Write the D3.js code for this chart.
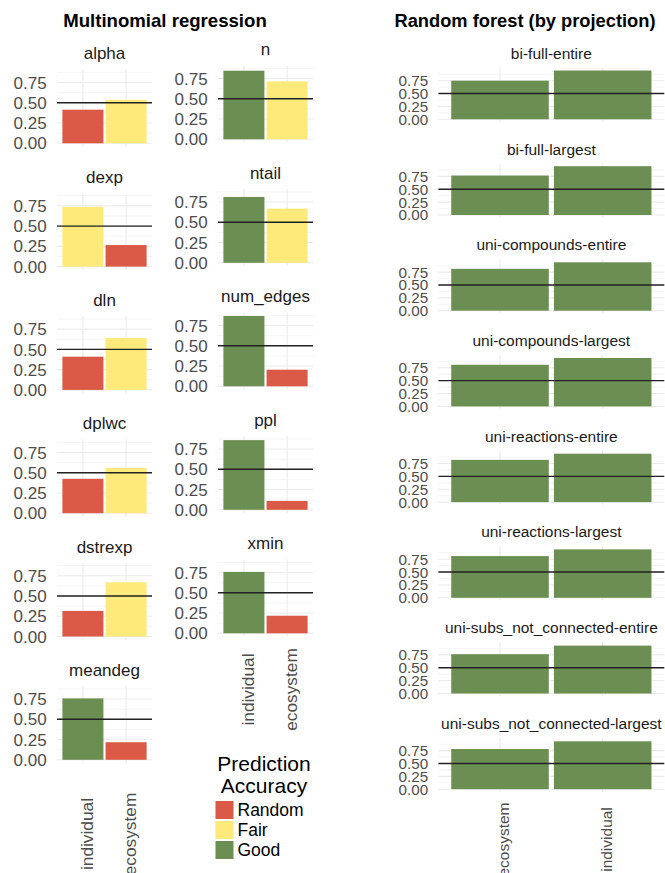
<!DOCTYPE html>
<html>
<head>
<meta charset="utf-8">
<script src="https://cdn.jsdelivr.net/npm/d3@7"></script>
<style>
  html, body { margin: 0; padding: 0; background: #fff; }
  svg { display: block; font-family: "Liberation Sans", Arial, Helvetica, sans-serif; }
</style>
</head>
<body>
<script>
// ---- data ---------------------------------------------------------------
// Multinomial regression: one panel per feature, two model scopes per panel
const mnFeatures = ["alpha", "dexp", "dln", "dplwc", "dstrexp", "meandeg",
                    "n", "ntail", "num_edges", "ppl", "xmin"];
const mnScopes = ["individual", "ecosystem"];
const mnIndividual = [0.415, 0.737, 0.410, 0.425, 0.316, 0.758,
                      0.847, 0.813, 0.868, 0.860, 0.758];
const mnEcosystem  = [0.537, 0.266, 0.640, 0.559, 0.669, 0.217,
                      0.715, 0.669, 0.205, 0.110, 0.217];
const mnIndividualClass = ["Random", "Fair", "Random", "Random", "Random", "Good",
                           "Good", "Good", "Good", "Good", "Good"];
const mnEcosystemClass  = ["Fair", "Random", "Fair", "Fair", "Fair", "Random",
                           "Fair", "Fair", "Random", "Random", "Random"];

// Random forest: one panel per network projection
const rfProjections = ["bi-full-entire", "bi-full-largest",
                       "uni-compounds-entire", "uni-compounds-largest",
                       "uni-reactions-entire", "uni-reactions-largest",
                       "uni-subs_not_connected-entire", "uni-subs_not_connected-largest"];
const rfScopes = ["ecosystem", "individual"];
const rfEcosystem  = [0.750, 0.766, 0.813, 0.808, 0.820, 0.810, 0.763, 0.780];
const rfIndividual = [0.947, 0.948, 0.940, 0.940, 0.940, 0.940, 0.930, 0.930];
const rfEcosystemClass  = ["Good", "Good", "Good", "Good", "Good", "Good", "Good", "Good"];
const rfIndividualClass = ["Good", "Good", "Good", "Good", "Good", "Good", "Good", "Good"];

const accuracyLevels = ["Random", "Fair", "Good"];
const yTicks = [0, 0.25, 0.5, 0.75];
const yMinorTicks = [0.125, 0.375, 0.625, 0.875];
const chanceLevel = 0.5;

// ---- styling ------------------------------------------------------------
const fillScale = d3.scaleOrdinal()
  .domain(accuracyLevels)
  .range(["#DA5947", "#FDEA7A", "#6B8E52"]);

const W = 665, H = 873;
const svg = d3.select("body").append("svg")
  .attr("width", W).attr("height", H);

const fmt = d3.format(".2f");

// y-domain with ggplot-like 5% expansion around [0, max]
function expandedDomain(values) {
  const mx = d3.max(values);
  return [-0.05 * mx, mx * 1.05];
}

// Draw one facet panel
function drawPanel(opts) {
  const { x0, x1, zero, ppu, domain, title, titleSize, tickSize, scopes,
          values, classes, showX, xLabelY, xLabelSize } = opts;
  const g = svg.append("g");

  const x = d3.scaleLinear().domain([0.4, 2.6]).range([x0, x1]);
  const y = d3.scaleLinear().domain(domain)
    .range([zero - domain[0] * ppu, zero - domain[1] * ppu]);

  // minor + major horizontal grid
  g.selectAll(".minor").data(yMinorTicks.filter(t => t < domain[1]))
    .join("line")
    .attr("x1", x0).attr("x2", x1)
    .attr("y1", d => y(d)).attr("y2", d => y(d))
    .attr("stroke", "#f1f1f1").attr("stroke-width", 0.7);
  g.selectAll(".major").data(yTicks)
    .join("line")
    .attr("x1", x0).attr("x2", x1)
    .attr("y1", d => y(d)).attr("y2", d => y(d))
    .attr("stroke", "#ebebeb").attr("stroke-width", 1.1);
  // vertical grid at category centres
  g.selectAll(".vgrid").data(scopes)
    .join("line")
    .attr("x1", (d, i) => x(i + 1)).attr("x2", (d, i) => x(i + 1))
    .attr("y1", y(domain[0])).attr("y2", y(domain[1]))
    .attr("stroke", "#ebebeb").attr("stroke-width", 1.1);

  // bars
  g.selectAll(".bar").data(values)
    .join("rect")
    .attr("x", (d, i) => x(i + 1 - 0.475))
    .attr("width", (d, i) => x(i + 1 + 0.475) - x(i + 1 - 0.475))
    .attr("y", d => y(d))
    .attr("height", d => y(0) - y(d))
    .attr("fill", (d, i) => fillScale(classes[i]));

  // chance line
  g.append("line")
    .attr("x1", x0).attr("x2", x1)
    .attr("y1", y(chanceLevel)).attr("y2", y(chanceLevel))
    .attr("stroke", "#222").attr("stroke-width", 1.4);

  // y tick labels
  g.selectAll(".ytl").data(yTicks)
    .join("text")
    .attr("x", x0 - 10.3)
    .attr("y", d => y(d))
    .attr("dy", "0.36em")
    .attr("text-anchor", "end")
    .attr("font-size", tickSize)
    .attr("fill", "#4d4d4d")
    .text(d => fmt(d));

  // strip title
  g.append("text")
    .attr("x", (x0 + x1) / 2)
    .attr("y", opts.titleY)
    .attr("dy", "0.36em")
    .attr("text-anchor", "middle")
    .attr("font-size", titleSize)
    .attr("fill", "#1a1a1a")
    .text(title);

  // x tick labels (rotated)
  if (showX) {
    g.selectAll(".xtl").data(scopes)
      .join("text")
      .attr("transform", (d, i) => `translate(${x(i + 1)},${xLabelY}) rotate(-90)`)
      .attr("dy", "0.6em")
      .attr("text-anchor", "middle")
      .attr("font-size", xLabelSize)
      .attr("fill", "#4d4d4d")
      .text(d => d);
  }
}

// ---- multinomial regression (two columns, column-major order) ----------
const mnDomain = expandedDomain(mnIndividual.concat(mnEcosystem));
const mnCols = [
  { x0: 57, x1: 152, zero0: 143.3, step: 123.3, xLabelY: 834 },
  { x0: 218, x1: 313, zero0: 139.3, step: 123.5, xLabelY: 689.5 }
];
const mnPerCol = 6;
mnFeatures.forEach((f, k) => {
  const c = Math.floor(k / mnPerCol), r = k % mnPerCol;
  const col = mnCols[c];
  const lastInCol = (c === 0 && r === mnPerCol - 1) || (k === mnFeatures.length - 1);
  const zero = col.zero0 + r * col.step;
  drawPanel({
    x0: col.x0, x1: col.x1, zero, ppu: 81, domain: mnDomain,
    title: f, titleY: zero - 90, titleSize: 17, tickSize: 17,
    scopes: mnScopes,
    values: [mnIndividual[k], mnEcosystem[k]],
    classes: [mnIndividualClass[k], mnEcosystemClass[k]],
    showX: lastInCol, xLabelY: col.xLabelY, xLabelSize: 17.3
  });
});

svg.append("text")
  .attr("x", 165).attr("y", 27)
  .attr("text-anchor", "middle")
  .attr("font-size", 18.6).attr("font-weight", "bold")
  .attr("fill", "#000")
  .text("Multinomial regression");

// ---- random forest (one column) ----------------------------------------
const rfDomain = expandedDomain(rfIndividual.concat(rfEcosystem));
rfProjections.forEach((p, k) => {
  const zero = 119.3 + k * 95.7;
  drawPanel({
    x0: 438.4, x1: 664.3, zero, ppu: 51.5, domain: rfDomain,
    title: p, titleY: zero - 66, titleSize: 15.5, tickSize: 15.2,
    scopes: rfScopes,
    values: [rfEcosystem[k], rfIndividual[k]],
    classes: [rfEcosystemClass[k], rfIndividualClass[k]],
    showX: k === rfProjections.length - 1, xLabelY: 839.5, xLabelSize: 15.5
  });
});

svg.append("text")
  .attr("x", 525).attr("y", 27)
  .attr("text-anchor", "middle")
  .attr("font-size", 18.3).attr("font-weight", "bold")
  .attr("fill", "#000")
  .text("Random forest (by projection)");

// ---- legend -------------------------------------------------------------
const legend = svg.append("g");
legend.selectAll(".lt").data(["Prediction", "Accuracy"])
  .join("text")
  .attr("x", 264)
  .attr("y", (d, i) => 771 + i * 21.7)
  .attr("text-anchor", "middle")
  .attr("font-size", 21)
  .attr("fill", "#000")
  .text(d => d);
legend.selectAll(".key").data(accuracyLevels)
  .join("rect")
  .attr("x", 214.5).attr("y", (d, i) => 800 + i * 20)
  .attr("width", 20).attr("height", 20)
  .attr("fill", d => fillScale(d))
  .attr("stroke", "#fff").attr("stroke-width", 2);
legend.selectAll(".kl").data(accuracyLevels)
  .join("text")
  .attr("x", 237.5).attr("y", (d, i) => 810 + i * 20)
  .attr("dy", "0.36em")
  .attr("font-size", 17.5)
  .attr("fill", "#000")
  .text(d => d);
</script>
</body>
</html>
